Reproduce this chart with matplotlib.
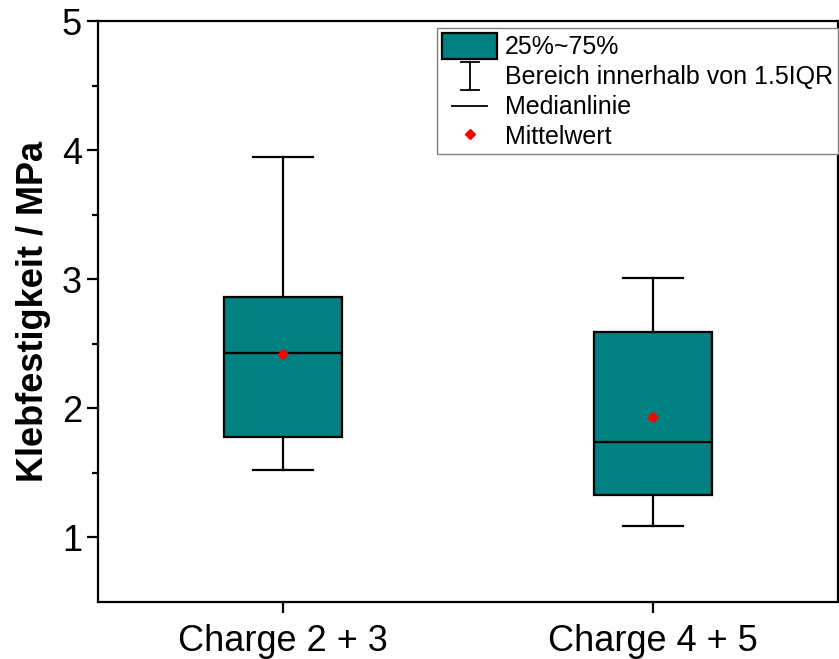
import matplotlib
matplotlib.use("Agg")
import matplotlib.pyplot as plt
from matplotlib.lines import Line2D
from matplotlib.patches import Patch
from matplotlib.legend_handler import HandlerBase

plt.rcParams['font.family'] = ['Liberation Sans', 'DejaVu Sans']

# Box statistics (MPa)
categories = ["Charge 2 + 3", "Charge 4 + 5"]
whisker_low = [1.52, 1.09]
q1 = [1.78, 1.33]
median = [2.43, 1.74]
q3 = [2.86, 2.59]
whisker_high = [3.95, 3.01]
mean = [2.42, 1.93]

legend_labels = ["25%~75%", "Bereich innerhalb von 1.5IQR", "Medianlinie", "Mittelwert"]

teal = "#008080"
lw = 1.6

fig = plt.figure(figsize=(8.39, 6.59), dpi=100)
ax = fig.add_axes([0.1168, 0.0865, 0.882, 0.8815])

stats = []
for i, name in enumerate(categories):
    stats.append(dict(label=name, whislo=whisker_low[i], q1=q1[i], med=median[i],
                      q3=q3[i], whishi=whisker_high[i], mean=mean[i], fliers=[]))

positions = [1, 2]
ax.bxp(stats, positions=positions, widths=0.32, capwidths=0.16,
       showmeans=True, showfliers=False, patch_artist=True,
       boxprops=dict(facecolor=teal, edgecolor="black", linewidth=lw),
       whiskerprops=dict(color="black", linewidth=lw),
       capprops=dict(color="black", linewidth=lw),
       medianprops=dict(color="black", linewidth=lw),
       meanprops=dict(marker="D", markerfacecolor="red", markeredgecolor="red",
                      markersize=5))

ax.set_xlim(0.5, 2.5)
ax.set_ylim(0.5, 5)
ax.set_xticks(positions)
ax.set_xticklabels(categories, fontsize=26)
ax.set_yticks([1, 2, 3, 4, 5])
ax.set_yticks([1.5, 2.5, 3.5, 4.5], minor=True)
ax.tick_params(axis="y", labelsize=26, direction="out", length=8, width=lw)
ax.tick_params(axis="y", which="minor", direction="out", length=4, width=lw)
ax.tick_params(axis="x", direction="out", length=8, width=lw, pad=8)
for sp in ax.spines.values():
    sp.set_linewidth(lw)

ax.set_ylabel("Klebfestigkeit / MPa", fontsize=26, fontweight="bold", labelpad=8)


class RangeHandler(HandlerBase):
    def create_artists(self, legend, orig_handle, xdescent, ydescent, width,
                       height, fontsize, trans):
        cx = width / 2 - xdescent
        y0 = -ydescent - 0.05 * height
        y1 = height - ydescent + 0.05 * height
        half = 0.16 * width
        arts = [
            Line2D([cx, cx], [y0, y1], color="black", lw=1.3, transform=trans),
            Line2D([cx - half, cx + half], [y0, y0], color="black", lw=1.3, transform=trans),
            Line2D([cx - half, cx + half], [y1, y1], color="black", lw=1.3, transform=trans),
        ]
        return arts


class ShortLineHandler(HandlerBase):
    def create_artists(self, legend, orig_handle, xdescent, ydescent, width,
                       height, fontsize, trans):
        cy = height / 2 - ydescent
        x0 = -xdescent + 0.18 * width
        x1 = -xdescent + 0.82 * width
        return [Line2D([x0, x1], [cy, cy], color="black", lw=1.3, transform=trans)]


h_box = Patch(facecolor=teal, edgecolor="black", linewidth=1.6)
h_range = Line2D([], [])
h_med = Line2D([], [])
h_mean = Line2D([], [], linestyle="none", marker="D", markerfacecolor="red",
                markeredgecolor="red", markersize=5)

leg = ax.legend([h_box, h_range, h_med, h_mean], legend_labels,
                handler_map={h_range: RangeHandler(), h_med: ShortLineHandler()},
                loc="upper right", bbox_to_anchor=(1.0, 0.988), borderaxespad=0,
                fontsize=18, frameon=True, fancybox=False, edgecolor="#808080",
                handlelength=2.2, handleheight=1.2, handletextpad=0.3,
                labelspacing=0.15, borderpad=0.2, framealpha=1)
leg.get_frame().set_linewidth(1.0)

fig.savefig("out.png", dpi=100)
